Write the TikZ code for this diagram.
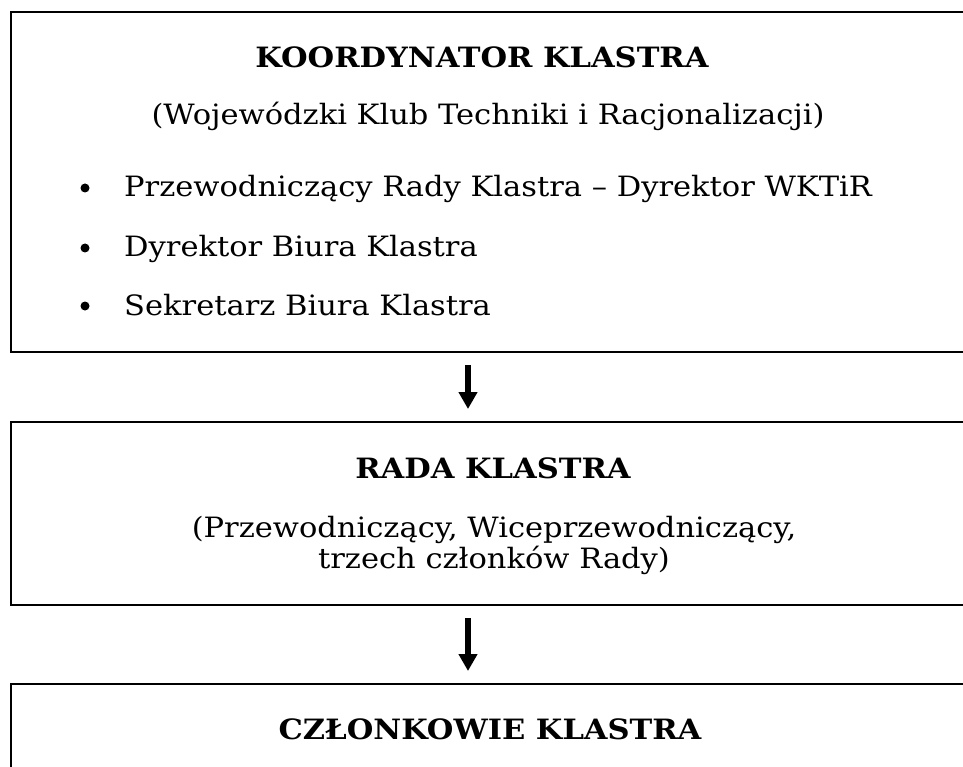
\documentclass[tikz,border=0pt]{standalone}
\usepackage{fontspec}
\setmainfont{DejaVu Serif}[FakeStretch=1.09]
\usetikzlibrary{arrows.meta}
\begin{document}
\begin{tikzpicture}[x=1pt,y=-1pt,
  box/.style={draw, line width=2pt, anchor=north west, inner sep=0pt, minimum width=957pt},
  ttl/.style={anchor=base, inner sep=0pt, font=\fontsize{28}{32}\selectfont\bfseries},
  txt/.style={anchor=base, inner sep=0pt, font=\fontsize{28}{32}\selectfont},
  itm/.style={anchor=base west, inner sep=0pt, font=\fontsize{28}{32}\selectfont},
  bul/.style={circle, fill=black, inner sep=0pt, minimum size=9pt},
  arr/.style={line width=6.5pt, -{Triangle[width=18pt,length=17pt]}, shorten <=12pt, shorten >=12pt}]
\path[use as bounding box, clip] (0,0) rectangle (963,767);
% boxes
\node[box, minimum height=340pt] (k) at (10,11) {};
\node[box, minimum height=183pt] (r) at (10,421) {};
\node[box, minimum height=140pt] (c) at (10,683) {};
% texts of box 1
\node[ttl] (kt) at (482,68) {KOORDYNATOR KLASTRA};
\node[txt] (ks) at (488,125) {(Wojewódzki Klub Techniki i Racjonalizacji)};
\node[bul] (b1) at (85,188) {};
\node[itm] (i1) at (124,197) {Przewodniczący Rady Klastra – Dyrektor WKTiR};
\node[bul] (b2) at (85,248) {};
\node[itm] (i2) at (124,257) {Dyrektor Biura Klastra};
\node[bul] (b3) at (85,306) {};
\node[itm] (i3) at (124,315) {Sekretarz Biura Klastra};
% texts of box 2
\node[ttl] (rt) at (493,478) {RADA KLASTRA};
\node[txt] (rs1) at (494,537) {(Przewodniczący, Wiceprzewodniczący,};
\node[txt] (rs2) at (494,568) {trzech członków Rady)};
% text of box 3
\node[ttl] (ct) at (490,739) {CZŁONKOWIE KLASTRA};
% arrows
\coordinate (ax) at (468,0);
\draw[arr] (k.south -| ax) -- (r.north -| ax);
\draw[arr] (r.south -| ax) -- (c.north -| ax);
\end{tikzpicture}
\end{document}
